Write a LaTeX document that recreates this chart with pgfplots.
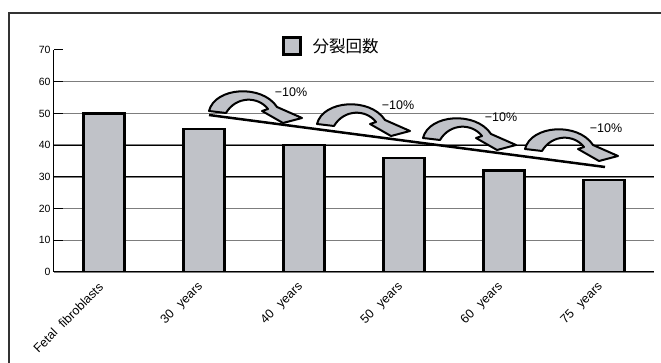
\documentclass[border=0pt]{standalone}
\usepackage{pgfplots}
\pgfplotsset{compat=1.18}
\usepackage{fontspec}
\setmainfont{Liberation Sans}
\newfontfamily\cjk{Noto Sans CJK JP}
\definecolor{barfill}{RGB}{192,194,200}
\definecolor{gridgray}{RGB}{125,125,125}
\begin{document}
\begin{tikzpicture}
\path[use as bounding box] (0,0) rectangle (661pt,363pt);
\draw[line width=1.2pt, black!80] (9pt,0pt) -- (9pt,350pt) -- (661pt,350pt);
\begin{axis}[
  at={(54pt,91pt)}, anchor=south west,
  scale only axis, width=600pt, height=222pt,
  xmin=-0.5, xmax=5.5, ymin=0, ymax=70,
  axis lines*=left,
  axis line style={black, line width=1pt},
  tick align=inside,
  major tick length=9.5pt,
  ytick={0,10,20,30,40,50,60},
  extra y ticks={70},
  extra y tick style={grid=none},
  ytick style={black, line width=1pt},
  ymajorgrids=true,
  major grid style={gridgray, line width=1.3pt},
  xtick={0,...,5},
  xticklabels={Fetal\hspace{0.6em}fibroblasts,30\hspace{0.7em}years,40\hspace{0.7em}years,50\hspace{0.7em}years,60\hspace{0.7em}years,75\hspace{0.7em}years},
  xtick style={draw=none},
  extra x ticks={0.5,1.5,2.5,3.5,4.5,5.5},
  extra x tick labels={},
  extra x tick style={draw=gray!90!black, line width=1pt, grid=none},
  yticklabel style={font=\fontsize{10.5}{11}\selectfont},
  xticklabel style={font=\fontsize{12.5}{13}\selectfont, rotate=45, anchor=east, xshift=-8pt, yshift=-7pt},
  /pgf/number format/assume math mode=true,
  legend style={at={(axis description cs:0.375,1.016)}, anchor=west, draw=none, fill=none,
    font=\cjk\fontsize{16.5}{18}\selectfont},
  legend cell align=left,
]
\addplot[black, line width=1.1pt, forget plot] coordinates {(-0.5,30) (5.5,30)};
\addplot[black, line width=1.1pt, forget plot] coordinates {(-0.5,40) (5.5,40)};
\addplot[ybar, bar width=41pt, fill=barfill, draw=black, line width=2.4pt,
  legend image code/.code={\draw[line width=2.4pt, fill=barfill, draw=black] (0pt,-8pt) rectangle (17pt,9pt);}]
  coordinates {(0,50) (1,45) (2,40) (3,36) (4,32) (5,29)};
\addlegendentry{\hspace{9pt}分裂回数}
\end{axis}
\begin{scope}[shift={(0pt,363pt)}, x=1pt, y=-1pt]
  \draw[line width=2.5pt] (209,115) -- (605,167);
  \foreach \dx/\dy in {0/0,108/13,214/27,316/38} {
    \begin{scope}[xshift=\dx pt, yshift=-\dy pt]
      \filldraw[fill=barfill, draw=black, line width=2pt, line join=round]
        (209,111) .. controls (215,87) and (262,84) .. (277,107) -- (302,118) -- (283,123)
        -- (262,111) -- (268,109) .. controls (258,96) and (236,96) .. (226,113) -- cycle;
    \end{scope}
  }
  \node[font=\fontsize{12.5}{13}\selectfont] at (291,92) {−10\%};
  \node[font=\fontsize{12.5}{13}\selectfont] at (398,105) {−10\%};
  \node[font=\fontsize{12.5}{13}\selectfont] at (501,117) {−10\%};
  \node[font=\fontsize{12.5}{13}\selectfont] at (606,128) {−10\%};
\end{scope}
\end{tikzpicture}
\end{document}
